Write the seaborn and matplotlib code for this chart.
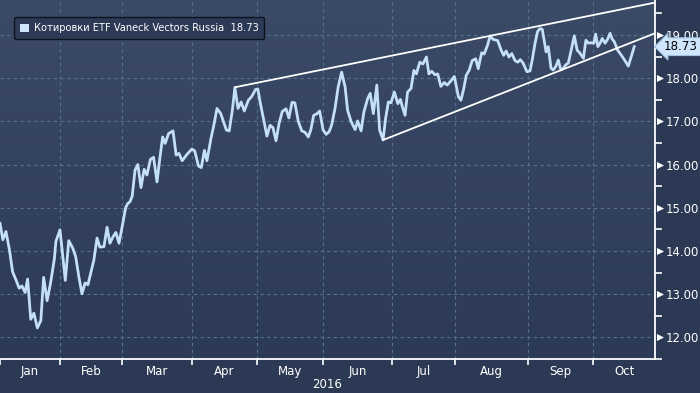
import numpy as np
import pandas as pd
import seaborn as sns
import matplotlib.pyplot as plt
from matplotlib.colors import LinearSegmentedColormap
from matplotlib.patches import Patch
import matplotlib.transforms as mtrans

# trading-day index (0 = first trading day of 2016) and closing price
day = [0.0, 0.9, 1.9, 3.0, 4.0, 5.1, 6.1, 7.0, 8.0, 8.8, 9.8, 10.8, 11.9, 13.0, 13.9,
       15.0, 16.1, 17.3, 17.8, 19.1, 20.8, 21.9, 23.2, 24.1, 25.1, 26.1, 27.1, 28.0, 29.0,
       29.9, 30.9, 31.8, 33.1, 34.1, 35.0, 36.0, 36.9, 37.9, 38.9, 40.0, 40.7, 41.4, 42.1,
       43.0, 43.9, 44.9, 45.9, 46.8, 47.9, 48.9, 50.0, 50.9, 51.8, 52.6, 53.7, 55.1, 56.1,
       57.0, 58.0, 59.6, 61.1, 62.0, 63.2, 64.1, 65.1, 65.9, 67.2, 68.1, 69.1, 70.3, 72.1,
       73.0, 74.0, 74.8, 75.8, 76.8, 77.8, 79.1, 80.2, 81.4, 82.1, 83.1, 84.2, 85.0, 86.0,
       86.9, 87.9, 88.9, 89.9, 91.1, 92.0, 93.0, 93.9, 95.0, 96.1, 97.1, 98.2, 99.0, 99.9,
       101.0, 101.8, 102.9, 103.9, 104.8, 105.6, 106.7, 107.7, 108.8, 109.9, 110.7, 111.8,
       113.1, 113.9, 115.0, 115.9, 117.1, 117.9, 118.9, 120.0, 120.9, 122.0, 122.8, 123.7,
       124.5, 125.6, 126.7, 127.5, 128.1, 129.0, 129.8, 130.9, 131.8, 132.6, 133.7, 134.7,
       135.8, 136.6, 137.5, 138.5, 139.4, 140.4, 141.5, 142.4, 143.4, 144.7, 146.0, 146.8,
       147.7, 148.5, 149.4, 150.4, 151.5, 152.3, 153.4, 154.2, 155.3, 156.1, 157.0, 158.5,
       159.6, 160.4, 161.2, 162.1, 163.0, 164.0, 164.9, 165.7, 166.6, 167.8, 168.8, 169.5,
       170.4, 171.2, 172.0, 172.7, 173.3, 173.9, 174.6, 175.5, 176.2, 177.0, 177.8, 178.6,
       179.4, 180.2, 181.0, 181.8, 182.9, 183.8, 184.7, 185.8, 186.6, 187.4, 188.2, 189.1,
       189.7, 190.4, 191.1, 191.8, 192.7, 193.5, 194.3, 195.0, 195.6, 196.7, 197.8, 199.0,
       200.1, 201.2, 202.0]
price = [14.64, 14.26, 14.45, 14.03, 13.52, 13.33, 13.14, 13.19, 13.04, 13.35, 12.42, 12.56,
         12.22, 12.39, 13.39, 12.85, 13.26, 13.81, 14.22, 14.49, 13.32, 14.24, 14.06, 13.87,
         13.41, 13.01, 13.26, 13.22, 13.52, 13.79, 14.30, 14.09, 14.10, 14.55, 14.18, 14.33,
         14.43, 14.18, 14.56, 15.00, 15.10, 15.14, 15.27, 15.87, 16.00, 15.47, 15.89, 15.76,
         16.12, 16.17, 15.60, 16.14, 16.64, 16.49, 16.72, 16.78, 16.22, 16.26, 16.09, 16.24,
         16.36, 16.32, 15.97, 15.93, 16.33, 16.09, 16.61, 16.91, 17.30, 17.18, 16.80, 16.78,
         17.26, 17.78, 17.30, 17.45, 17.24, 17.49, 17.58, 17.74, 17.75, 17.35, 16.96, 16.66,
         16.91, 16.86, 16.55, 16.96, 17.23, 17.29, 17.08, 17.44, 17.43, 17.00, 16.78, 16.75,
         16.64, 16.81, 17.14, 17.18, 17.24, 16.80, 16.70, 16.76, 16.91, 17.30, 17.80, 18.14,
         17.80, 17.26, 17.00, 16.81, 17.01, 16.78, 17.22, 17.53, 17.65, 17.18, 17.84, 16.80,
         16.57, 17.07, 17.45, 17.43, 17.68, 17.41, 17.51, 17.35, 17.14, 17.68, 17.76, 18.18,
         18.10, 18.37, 18.33, 18.49, 18.10, 18.16, 18.08, 18.10, 17.81, 17.90, 17.84, 17.92,
         18.04, 17.57, 17.49, 17.76, 18.07, 18.18, 18.41, 18.45, 18.22, 18.59, 18.56, 18.77,
         18.98, 18.90, 18.87, 18.65, 18.53, 18.63, 18.49, 18.57, 18.41, 18.37, 18.43, 18.35,
         18.15, 18.17, 18.42, 18.81, 19.08, 19.15, 19.13, 18.88, 18.61, 18.73, 18.23, 18.19,
         18.27, 18.42, 18.19, 18.23, 18.31, 18.35, 18.61, 18.98, 18.65, 18.58, 18.46, 18.88,
         18.81, 18.82, 18.81, 19.02, 18.73, 18.81, 18.92, 18.81, 18.90, 19.04, 18.90, 18.85,
         18.65, 18.54, 18.41, 18.28, 18.54, 18.73]

months = ['Jan', 'Feb', 'Mar', 'Apr', 'May', 'Jun', 'Jul', 'Aug', 'Sep', 'Oct']
month_start = [0, 19, 39, 61, 82, 103, 125, 145, 168, 189]
x_end = 208.6
year_label = '2016'
series_name = 'Котировки ETF Vaneck Vectors Russia  18.73'
last_value = 18.73
y_ticks = [12, 13, 14, 15, 16, 17, 18, 19]

# trend channel: (day, value) start and end points
upper_line = ([74.8, 208.6], [17.79, 19.75])
lower_line = ([122.0, 208.6], [16.57, 19.04])

df = pd.DataFrame({'day': day, 'price': price})

line_col = '#c4dffa'
bg_top, bg_bot = '#3b4a67', '#2c3a56'
fig_bg = '#2b3954'
grid_col = '#52738b'

fig = plt.figure(figsize=(7, 3.93), dpi=100, facecolor=fig_bg)
ax = fig.add_axes([0, 0.0865, 0.9357, 0.9135])

grad = LinearSegmentedColormap.from_list('bg', [bg_bot, bg_top])
ax.imshow(np.linspace(0, 1, 256)[:, None], extent=[0, 1, 0, 1], origin='lower',
          transform=ax.transAxes, aspect='auto', cmap=grad, zorder=0)

sns.lineplot(data=df, x='day', y='price', ax=ax, color=line_col, lw=2, zorder=3)
ax.plot(*upper_line, color='white', lw=1.3, zorder=4)
ax.plot(*lower_line, color='white', lw=1.3, zorder=4)

ax.set_xlim(0, x_end)
ax.set_ylim(11.51, 19.81)

# grid
for m in month_start[1:]:
    ax.axvline(m, color=grid_col, ls=(0, (3, 3)), lw=0.8, zorder=1)
for t in y_ticks:
    ax.axhline(t, color=grid_col, ls=(0, (3, 3)), lw=0.8, zorder=1)

for s in ['left', 'top']:
    ax.spines[s].set_visible(False)
for s in ['right', 'bottom']:
    ax.spines[s].set_color('white')
    ax.spines[s].set_linewidth(1.3)

# x axis: month boundaries as ticks, names centred in month
ax.set_xticks(month_start)
ax.set_xticklabels([])
mids = [(a + b) / 2 for a, b in zip(month_start, month_start[1:] + [x_end])]
ax.set_xticks(mids, minor=True)
ax.set_xticklabels(months, minor=True)
ax.tick_params(axis='x', which='major', direction='out', length=4, width=1.2, color='white')
ax.tick_params(axis='x', which='minor', length=0, pad=4, labelsize=8.5, labelcolor='white')
ax.set_xlabel(year_label, color='white', fontsize=8.5, labelpad=0)

# y axis on right
ax.yaxis.tick_right()
ax.set_yticks(y_ticks)
ax.set_yticklabels([f'{t:.2f}' for t in y_ticks])
ax.set_yticks([t + 0.5 for t in y_ticks[:-1]] + [11.5, 19.5], minor=True)
ax.tick_params(axis='y', which='major', length=0, pad=8, labelsize=8.4, labelcolor='white')
ax.tick_params(axis='y', which='minor', direction='out', length=5, width=1.2, color='white')
ax.set_ylabel('')
trans = mtrans.blended_transform_factory(ax.transAxes, ax.transData)
ax.scatter([1.008] * len(y_ticks), y_ticks, marker='>', s=26, color='white',
           transform=trans, clip_on=False, zorder=5, linewidths=0)

# last value tag
ax.text(1.014, last_value, f'{last_value:.2f}', transform=trans, fontsize=8.6,
        color='black', va='center', ha='left', zorder=6,
        bbox=dict(boxstyle='larrow,pad=0.2', fc='#cfe5fb', ec='#9fc0e0', lw=0.8))

# legend
handle = Patch(facecolor='#cfe5fb', edgecolor='none')
leg = ax.legend([handle], [series_name], loc='upper left', bbox_to_anchor=(0.014, 0.965),
                frameon=True, fontsize=7.1, handlelength=0.9, handleheight=0.9,
                handletextpad=0.5, borderpad=0.6, fancybox=True)
leg.get_frame().set_facecolor('#2c3a56')
leg.get_frame().set_edgecolor('#0c1220')
leg.get_frame().set_alpha(1)
for t in leg.get_texts():
    t.set_color('white')

fig.savefig('out.png', dpi=100, facecolor=fig_bg)
